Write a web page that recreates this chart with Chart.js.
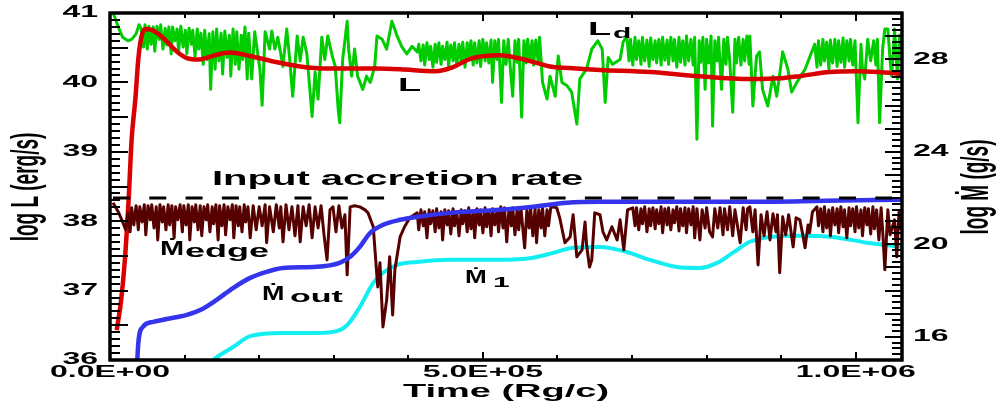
<!DOCTYPE html>
<html>
<head>
<meta charset="utf-8">
<script src="https://cdn.jsdelivr.net/npm/chart.js@4.4.1/dist/chart.umd.min.js"></script>
<style>
  html, body { margin: 0; padding: 0; background: #fff; }
  #wrap { position: relative; width: 998px; height: 403px; }
  #wrap canvas { position: absolute; left: 0; top: 0; }
  #tickLayer { pointer-events: none; }
</style>
</head>
<body>
<div id="wrap">
  <canvas id="lumChart" width="998" height="403"></canvas>
  <canvas id="tickLayer" width="998" height="403"></canvas>
</div>
<script>
// All times are in units of 1e3 Rg/c, values are log10

// Ld : disk luminosity (left axis, erg/s)
const ldData = [
  [4,41.01],[11,40.80],[17,40.65],[24,40.60],[29,40.62],[35,40.70],[39,40.83],[42,40.77],
  [45,40.51],[47,40.83],[50,40.48],[52,40.81],[55,40.55],[58,40.80],[60,40.45],[63,40.81],[66,40.62],[68,40.83],
  [71,40.48],[74,40.78],[76,40.54],[79,40.80],[82,40.41],[84,40.80],[87,40.60],[90,40.77],[92,40.44],[95,40.81],
  [98,40.51],[101,40.75],[103,40.41],[106,40.78],[109,40.55],[111,40.75],[114,40.38],[117,40.77],[119,40.48],
  [122,40.71],[125,40.26],[127,40.75],[130,40.33],[133,40.70],[135,39.90],[138,40.73],[141,40.19],[143,40.77],[146,40.31],
  [149,40.71],[151,40.12],[154,40.74],[157,40.36],[160,40.68],[162,40.09],[165,40.77],[168,40.26],[170,40.73],[173,40.19],
  [176,40.68],[178,40.33],[181,40.80],[184,40.05],[186,40.71],
  [190,40.05],[194,40.73],[201,40.19],[204,39.67],[208,40.73],[214,40.48],[217,40.74],[221,40.48],[225,40.65],[232,40.23],
  [237,40.77],[241,40.33],[245,39.80],[251,40.67],[255,40.31],[259,40.65],[264,40.41],[271,39.51],[275,40.15],[279,39.76],
  [284,40.65],[288,40.33],[292,40.67],[298,40.38],[302,40.23],[306,39.61],[308,39.42],[312,40.33],[318,40.88],[320,40.48],
  [324,40.09],[328,40.48],[332,40.09],[339,39.90],[344,40.09],[349,40.00],[355,40.23],[358,40.67],[365,40.62],[371,40.48],
  [378,40.88],[385,40.67],[391,40.52],[398,40.41],[405,40.52],[412,40.44],
  [414,40.55],[417,40.31],[420,40.54],[422,40.25],[425,40.57],[428,40.33],[430,40.52],[433,40.22],[436,40.55],[438,40.29],
  [441,40.57],[444,40.26],[446,40.52],[449,40.33],[452,40.58],[454,40.23],[457,40.54],[460,40.31],[462,40.57],[465,40.25],
  [468,40.55],[471,40.29],[473,40.58],[476,40.22],[479,40.57],[481,40.32],[484,40.60],[487,40.25],[489,40.57],[492,40.28],
  [495,40.60],[497,40.23],[500,40.62],[503,40.31],[505,40.57],[508,40.28],[511,40.61],[513,40.00],[516,40.60],[519,40.33],
  [521,40.62],
  [525,39.71],[528,40.60],[531,40.26],[534,40.62],[536,40.31],[540,39.80],[543,40.60],[546,40.29],[548,40.62],[552,39.50],
  [555,40.60],[558,40.28],[560,40.62],[563,40.33],[566,40.60],[568,40.25],[571,40.61],[574,40.31],[576,40.65],[580,40.00],
  [586,39.76],[590,40.09],[597,39.80],[601,40.38],[606,40.00],[613,39.95],[619,39.86],[626,39.40],[630,40.05],[639,40.19],
  [646,40.48],[654,40.60],[660,40.48],[664,39.71],[668,40.36],[674,40.26],[684,40.33],[688,40.58],[693,40.67],
  [696,40.31],[698,40.62],[701,40.25],[704,40.65],[706,40.33],[709,40.60],[712,40.26],[714,40.65],[717,40.31],[720,40.61],
  [723,40.23],[725,40.64],[728,40.33],[731,40.60],[733,40.28],[736,40.62],[739,40.25],[741,40.65],[744,40.32],[747,40.61],
  [749,40.26],[752,40.65],[755,40.31],[757,40.62],[760,40.22],[763,40.65],[765,40.29],[768,40.60],[771,40.25],[773,40.67],
  [776,40.31],[779,40.62],[782,40.25],[784,40.65],[787,39.18],[790,40.60],[792,40.29],[795,40.65],[798,39.90],[800,40.62],
  [803,40.28],[806,40.67],[808,39.37],[811,40.60],[814,40.31],[816,40.65],[820,39.90],[823,40.62],[826,40.26],[828,40.65],
  [831,40.31],[835,39.57],[838,40.62],[840,40.28],[843,40.65],[846,40.25],[849,40.62],[851,40.31],[854,40.67],[857,40.26],
  [858,40.67],[862,39.66],[867,40.38],[871,40.44],[875,39.90],[882,39.66],[889,40.09],[894,39.80],[902,40.44],[909,40.19],
  [914,39.86],[921,40.00],[932,40.19],[941,40.44],[945,40.55],[948,40.22],[950,40.60],[953,40.25],[956,40.62],[958,40.31],
  [961,40.58],[964,40.19],[966,40.61],[969,40.28],[972,40.62],[975,40.23],[977,40.60],[980,40.29],[983,40.64],[985,40.22],
  [988,40.60],[991,40.31],[993,40.62],[996,40.25],[999,40.60],[1003,39.42],[1007,40.55],[1009,40.19],[1012,40.05],[1016,40.62],
  [1020,40.31],[1024,40.60],[1027,40.25],[1029,40.62],[1032,39.42],[1036,40.48],[1039,40.77],[1043,40.77],[1046,40.33],[1048,40.09],
  [1051,40.55],[1052,40.77],[1056,40.05],[1059,40.70]
];

// L : total luminosity (left axis)
const lData = [
  [9,36.43],[15,36.87],[20,37.45],[25,38.31],[29,39.18],[34,39.76],[38,40.34],[42,40.65],[47,40.77],[55,40.76],
  [67,40.68],[77,40.58],[90,40.44],[103,40.35],[120,40.33],[140,40.39],[160,40.43],[188,40.38],[220,40.30],[255,40.23],
  [290,40.20],[320,40.20],[355,40.20],[389,40.19],[436,40.16],[460,40.22],[483,40.34],[523,40.39],[555,40.33],[590,40.23],
  [625,40.20],[657,40.18],[724,40.15],[790,40.09],[858,40.05],[900,40.06],[925,40.09],[965,40.15],[1000,40.16],[1030,40.15],
  [1062,40.12]
];

// Medge : accretion rate at the outer edge (right axis, g/s)
const mEdgeData = [
  [4,21.80],[11,21.41],[17,20.97],[21,20.63],[24,21.36],[27,20.54],[29,21.58],[32,20.84],[35,21.67],[38,20.63],
  [40,21.62],[43,20.97],[46,21.71],[48,20.41],[51,21.67],[54,21.06],[56,21.71],[59,20.71],[62,21.62],[64,20.19],
  [67,21.71],[70,20.97],[72,21.62],[75,20.63],[78,21.71],[80,20.84],[83,21.67],[86,20.28],[88,21.62],[91,21.06],
  [94,21.71],[97,20.54],[99,21.67],[102,20.84],[105,21.71],[107,20.19],[110,21.62],[113,20.97],[115,21.71],[118,20.63],
  [121,21.67],[123,20.37],[126,21.62],[129,21.06],[131,21.71],[134,20.54],[137,21.62],[139,20.89],[142,21.71],[145,20.19],
  [147,21.67],[150,20.80],[153,21.71],[155,20.41],[158,21.62],[161,21.06],[164,21.71],[166,20.28],[169,21.67],[172,20.80],
  [174,21.62],[177,20.54],[180,21.71],[182,20.97],[185,21.62],[188,20.28],[192,21.67],[196,20.63],[200,21.62],[204,20.80],
  [208,21.71],[210,20.07],[214,21.62],[219,20.54],[223,21.71],[227,20.71],[229,21.62],[232,20.11],[236,21.71],[240,20.63],
  [244,21.62],[248,20.37],[252,21.67],[255,20.11],[259,21.62],[263,20.80],[267,21.71],[271,20.28],[275,21.62],[279,20.71],
  [283,21.67],[287,20.41],[291,19.33],[295,21.49],[299,21.62],[303,20.54],[307,21.67],[311,20.71],[315,21.28],[318,18.68],
  [322,21.62],[328,21.67],[335,21.62],[342,21.49],[346,21.36],[353,20.76],[359,18.16],[362,19.20],[366,16.43],[371,17.60],
  [375,19.46],[379,16.95],[382,18.90],[389,20.32],[395,20.76],[402,21.15],[412,21.36],
  [414,20.63],[417,21.49],[420,20.80],[422,21.41],[425,20.28],[428,21.49],[430,20.89],[433,21.45],[436,20.54],[438,21.54],
  [441,20.71],[444,21.41],[446,20.19],[449,21.49],[452,20.84],[454,21.45],[457,20.45],[460,21.54],[462,20.80],[465,21.41],
  [468,20.37],[471,21.49],[473,20.89],[476,21.45],[479,20.54],[481,21.58],[484,20.67],[487,21.45],[489,20.28],[492,21.54],
  [495,20.84],[497,21.49],[500,20.50],[503,21.58],[505,20.76],[508,21.45],[511,20.37],[513,21.54],[516,20.84],[519,21.49],
  [521,20.54],
  [524,21.62],[527,20.71],[529,21.58],[532,20.11],[535,21.54],[538,20.80],[540,21.58],[543,20.41],[546,21.54],[548,20.63],
  [551,21.58],[556,19.85],[559,21.49],[562,20.71],[564,21.58],[567,20.37],[570,21.54],[572,20.07],[575,21.49],[578,20.71],
  [580,21.58],[583,20.37],[586,21.49],[588,20.80],[591,21.58],[594,21.62],[599,21.58],[603,21.15],[610,20.07],[617,20.32],
  [621,21.28],[626,19.46],[633,19.76],[637,20.97],[639,19.98],[643,19.02],[646,19.33],[650,21.36],[657,21.28],[661,20.54],
  [666,20.19],[673,20.76],[680,20.19],[684,21.06],[689,19.76],[694,21.49],[701,21.58],
  [704,20.80],[706,21.58],[709,20.63],[712,21.54],[714,20.89],[717,21.62],[720,20.54],[723,21.54],[725,20.80],[728,21.58],
  [731,20.67],[733,21.49],[736,20.89],[739,21.62],[741,20.50],[744,21.54],[747,20.84],[749,21.58],[752,20.63],[755,21.49],
  [757,20.93],[760,21.62],[763,20.58],[765,21.54],[768,20.80],[771,21.58],[773,20.50],[776,21.54],[779,20.84],[782,21.62],
  [784,20.28],[787,21.54],[791,20.19],[794,21.49],[798,20.71],[800,21.58],[804,20.54],[808,20.32],[811,21.54],[815,20.71],
  [818,21.58],[822,20.41],[824,21.54],[828,20.63],[831,21.62],[835,20.37],[838,21.49],[842,20.67],[845,20.07],[849,21.58],
  [853,20.63],[855,21.54],
  [858,21.62],[862,20.54],[865,21.49],[869,19.11],[873,21.28],[877,20.37],[881,21.41],[885,20.19],[889,21.32],[893,20.54],
  [895,21.28],[898,18.77],[902,21.19],[906,20.41],[910,21.28],[916,19.89],[920,21.15],[925,21.06],[929,20.41],[932,19.85],
  [936,20.84],[938,20.50],[942,21.41],[948,21.62],[950,20.80],[953,21.54],[956,20.54],[958,21.62],[961,20.71],[964,21.49],
  [966,20.37],[969,21.58],[972,20.84],[975,21.54],[977,20.50],[980,21.62],[983,20.76],[985,21.49],[988,20.28],[991,21.58],
  [993,20.80],[996,21.54],[999,20.54],[1001,21.62],[1004,20.71],[1007,21.49],[1009,20.37],[1012,21.58],[1015,20.84],[1017,21.54],
  [1020,20.45],[1023,21.62],[1025,20.67],[1028,21.49],[1031,20.19],[1034,21.58],[1036,20.63],[1039,18.90],[1043,21.49],[1046,20.41],
  [1048,20.63],[1052,21.06],[1055,19.46],[1058,21.41],[1060,20.63]
];

// Mout : outflow rate (right axis)
const mOutData = [
  [35,13.92],[38,15.74],[44,16.43],[58,16.65],[76,16.77],[103,16.95],[121,17.16],[143,17.60],[165,18.11],[188,18.55],
  [210,18.81],[232,18.98],[277,19.03],[308,19.20],[322,19.46],[335,19.89],[349,20.50],[366,20.84],[389,21.06],[412,21.19],
  [456,21.36],[500,21.45],[523,21.49],[567,21.62],[613,21.80],[657,21.84],[747,21.84],[858,21.84],[958,21.88],[1062,21.93]
];

// M1 : accretion rate at inner radius (right axis)
const m1Data = [
  [127,14.65],[138,15.00],[165,15.56],[188,16.03],[232,16.17],[277,16.17],[304,16.25],[318,16.51],[335,17.29],[353,18.33],
  [366,18.77],[385,19.11],[412,19.24],[456,19.33],[523,19.33],[567,19.42],[594,19.63],[621,19.85],[657,19.89],[693,19.67],
  [724,19.33],[760,19.02],[791,18.98],[814,19.20],[835,19.63],[858,20.11],[885,20.32],[925,20.37],[969,20.32],[1015,20.07],
  [1062,19.89]
];

const inputRate = 22; // input accretion rate, log g/s
const timeMax = 1062;

const xTickValues = [0, 500, 1000];
const xTickLabels = ["0.0E+00", "5.0E+05", "1.0E+06"];
const lTickValues = [36, 37, 38, 39, 40, 41];
const mTickValues = [16, 20, 24, 28];

const FONT = "'Liberation Sans', Arial, 'DejaVu Sans', sans-serif";
const SX = 2; // the original figure is stretched horizontally

const toPoints = (arr) => arr.map(([t, v]) => ({ x: t, y: v }));

// draw bold text, stretched horizontally in screen space
function drawText(g, text, x, y, size, opts = {}) {
  g.save();
  g.translate(x, y);
  g.scale(opts.sx || SX, 1);
  if (opts.rotate) g.rotate(opts.rotate);
  g.font = `bold ${size}px ${FONT}`;
  g.textAlign = opts.align || "left";
  g.textBaseline = opts.baseline || "alphabetic";
  g.fillStyle = "#000";
  g.fillText(text, 0, 0);
  g.restore();
}

// inward tick marks and the plot frame
function drawFrame(g, a, xs, yL, yM) {
  g.save();
  g.setLineDash([]);
  g.fillStyle = "#000";
  for (let t = 0; t <= timeMax; t += 100) {
    const px = Math.round(xs.getPixelForValue(t));
    const len = t % 500 === 0 ? 8 : 5;
    g.fillRect(px - 1, a.bottom - len, 2, len);
    g.fillRect(px - 1, a.top, 2, len);
  }
  for (let i = 0; i <= 50; i++) {
    const py = Math.round(yL.getPixelForValue(36 + i / 10));
    const len = i % 5 === 0 ? 18 : 10;
    g.fillRect(a.left, py - 1, len, 2);
  }
  for (let i = 0; i <= 60; i++) {
    const py = Math.round(yM.getPixelForValue(15 + i / 4));
    const len = i % 4 === 0 ? 17 : 10;
    g.fillRect(a.right - len, py - 1, len, 2);
  }
  g.strokeStyle = "#000";
  g.lineWidth = 3;
  g.strokeRect(a.left, a.top, a.right - a.left, a.bottom - a.top);
  g.restore();
}

// tick labels, axis titles and curve labels
const labelPlugin = {
  id: "labels",
  afterDraw(chart) {
    const g = chart.ctx;
    const a = chart.chartArea;
    const xs = chart.scales.x, yL = chart.scales.yL, yM = chart.scales.yM;

    drawFrame(g, a, xs, yL, yM);

    lTickValues.forEach((v) => {
      drawText(g, String(v), a.left - 12, yL.getPixelForValue(v), 16, { align: "right", baseline: "middle" });
    });
    mTickValues.forEach((v) => {
      drawText(g, String(v), a.right + 11, yM.getPixelForValue(v), 16, { align: "left", baseline: "middle" });
    });
    xTickValues.forEach((t, i) => {
      drawText(g, xTickLabels[i], xs.getPixelForValue(t), a.bottom + 17, 16, { align: "center" });
    });

    drawText(g, "Time (Rg/c)", 506, 397, 19, { align: "center" });
    drawText(g, "log L (erg/s)", 28, 187, 19, { align: "center", baseline: "middle", rotate: -Math.PI / 2 });
    drawText(g, "log Ṁ (g/s)", 978, 187, 19, { align: "center", baseline: "middle", rotate: -Math.PI / 2 });

    drawText(g, "Input accretion rate", 212, 185, 20);
    drawText(g, "L", 398, 91, 19);
    drawText(g, "L", 588, 35, 19);
    drawText(g, "d", 613, 38, 15);
    drawText(g, "Ṁ", 160, 255, 20, { sx: 1.45 });
    drawText(g, "edge", 185, 257, 18);
    drawText(g, "Ṁ", 262, 300, 20, { sx: 1.35 });
    drawText(g, "out", 290, 302, 17);
    drawText(g, "Ṁ", 465, 283, 18, { sx: 1.45 });
    drawText(g, "1", 493, 287, 15);
  }
};

const lumChart = new Chart(document.getElementById("lumChart").getContext("2d"), {
  type: "line",
  data: {
    datasets: [
      {
        label: "Input accretion rate",
        data: [{ x: 4, y: inputRate }, { x: timeMax, y: inputRate }],
        yAxisID: "yM",
        borderColor: "#000",
        borderWidth: 3,
        borderDash: [17, 19.3],
        order: 1,
      },
      {
        label: "Mout",
        data: toPoints(mOutData),
        yAxisID: "yM",
        borderColor: "#3434ec",
        borderWidth: 4.5,
        cubicInterpolationMode: "monotone",
        order: 2,
      },
      {
        label: "Medge",
        data: toPoints(mEdgeData),
        yAxisID: "yM",
        borderColor: "#560000",
        borderWidth: 3,
        tension: 0,
        order: 3,
      },
      {
        label: "M1",
        data: toPoints(m1Data),
        yAxisID: "yM",
        borderColor: "#12eef2",
        borderWidth: 4,
        cubicInterpolationMode: "monotone",
        order: 4,
      },
      {
        label: "L",
        data: toPoints(lData),
        yAxisID: "yL",
        borderColor: "#d80000",
        borderWidth: 4.5,
        cubicInterpolationMode: "monotone",
        order: 5,
      },
      {
        label: "Ld",
        data: toPoints(ldData),
        yAxisID: "yL",
        borderColor: "#00cc00",
        borderWidth: 3,
        tension: 0,
        order: 6,
      },
    ],
  },
  options: {
    responsive: false,
    devicePixelRatio: 1,
    animation: false,
    layout: { padding: { left: 110, right: 96, top: 13, bottom: 43 } },
    elements: { point: { radius: 0 }, line: { borderCapStyle: "butt", borderJoinStyle: "round" } },
    scales: {
      x: { type: "linear", min: 0, max: timeMax, display: false },
      yL: { type: "linear", position: "left", min: 36, max: 41, display: false },
      yM: { type: "linear", position: "right", min: 15, max: 30, display: false },
    },
    plugins: { legend: { display: false }, tooltip: { enabled: false } },
  },
  plugins: [labelPlugin],
});

// ticks and frame again on a transparent layer above the chart, using the chart's scales
const tickCtx = document.getElementById("tickLayer").getContext("2d");
drawFrame(tickCtx, lumChart.chartArea, lumChart.scales.x, lumChart.scales.yL, lumChart.scales.yM);
</script>
</body>
</html>
